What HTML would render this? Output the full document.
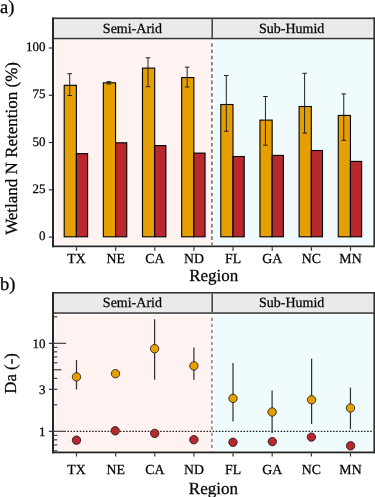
<!DOCTYPE html><html><head><meta charset="utf-8"><style>html,body{margin:0;padding:0;background:#fff;}svg{display:block;will-change:transform;}text{font-family:"Liberation Serif", serif;fill:#000;stroke:#000;stroke-width:0.25px;text-rendering:geometricPrecision;}</style></head><body>
<svg width="375" height="497" viewBox="0 0 375 497">
<rect x="54" y="19.1" width="319" height="18.699999999999996" fill="#eaeaea"/>
<rect x="54" y="39.3" width="319" height="206.2" fill="#fff"/>
<rect x="55" y="40.199999999999996" width="155.8" height="204.4" fill="#fef3f0"/>
<rect x="212.9" y="40.199999999999996" width="159.7" height="204.4" fill="#f0fbfd"/>
<rect x="211.4" y="19.1" width="1.6" height="18.699999999999996" fill="#4a4a4a"/>
<rect x="52" y="17.5" width="323" height="1.6" fill="#333333"/>
<rect x="52" y="37.8" width="323" height="1.5" fill="#333333"/>
<rect x="52" y="245.5" width="323" height="1.7" fill="#262626"/>
<rect x="52" y="17.5" width="2" height="229.7" fill="#262626"/>
<rect x="373.35" y="17.5" width="1.65" height="229.7" fill="#333333"/>
<text x="132.4" y="32.8" font-size="14" text-anchor="middle">Semi-Arid</text>
<text x="291.7" y="32.8" font-size="14" text-anchor="middle">Sub-Humid</text>
<line x1="211.9" y1="43.2" x2="211.9" y2="245.5" stroke="#666666" stroke-width="1.5" stroke-dasharray="3.6 2.63"/>
<rect x="48.8" y="236.50" width="3.4" height="1.2" fill="#333333"/>
<text x="45.6" y="240.20" font-size="13" text-anchor="end">0</text>
<rect x="48.8" y="189.22" width="3.4" height="1.2" fill="#333333"/>
<text x="45.6" y="192.92" font-size="13" text-anchor="end">25</text>
<rect x="48.8" y="141.95" width="3.4" height="1.2" fill="#333333"/>
<text x="45.6" y="145.65" font-size="13" text-anchor="end">50</text>
<rect x="48.8" y="94.68" width="3.4" height="1.2" fill="#333333"/>
<text x="45.6" y="98.38" font-size="13" text-anchor="end">75</text>
<rect x="48.8" y="47.40" width="3.4" height="1.2" fill="#333333"/>
<text x="45.6" y="51.10" font-size="13" text-anchor="end">100</text>
<rect x="75.90" y="247.2" width="1.2" height="3.6" fill="#333333"/>
<text x="76.50" y="262.8" font-size="13.8" text-anchor="middle">TX</text>
<rect x="115.04" y="247.2" width="1.2" height="3.6" fill="#333333"/>
<text x="115.64" y="262.8" font-size="13.8" text-anchor="middle">NE</text>
<rect x="154.18" y="247.2" width="1.2" height="3.6" fill="#333333"/>
<text x="154.78" y="262.8" font-size="13.8" text-anchor="middle">CA</text>
<rect x="193.32" y="247.2" width="1.2" height="3.6" fill="#333333"/>
<text x="193.92" y="262.8" font-size="13.8" text-anchor="middle">ND</text>
<rect x="232.46" y="247.2" width="1.2" height="3.6" fill="#333333"/>
<text x="233.06" y="262.8" font-size="13.8" text-anchor="middle">FL</text>
<rect x="271.60" y="247.2" width="1.2" height="3.6" fill="#333333"/>
<text x="272.20" y="262.8" font-size="13.8" text-anchor="middle">GA</text>
<rect x="310.74" y="247.2" width="1.2" height="3.6" fill="#333333"/>
<text x="311.34" y="262.8" font-size="13.8" text-anchor="middle">NC</text>
<rect x="349.88" y="247.2" width="1.2" height="3.6" fill="#333333"/>
<text x="350.48" y="262.8" font-size="13.8" text-anchor="middle">MN</text>
<rect x="64.20" y="85.3" width="12.20" height="151.50" fill="#e69f00" stroke="#000" stroke-width="1.1"/>
<rect x="76.40" y="153.65" width="11.20" height="83.15" fill="#b8282d" stroke="#000" stroke-width="1.1"/>
<rect x="103.35" y="82.8" width="12.20" height="154.00" fill="#e69f00" stroke="#000" stroke-width="1.1"/>
<rect x="115.55" y="142.8" width="11.20" height="94.00" fill="#b8282d" stroke="#000" stroke-width="1.1"/>
<rect x="142.50" y="68.1" width="12.20" height="168.70" fill="#e69f00" stroke="#000" stroke-width="1.1"/>
<rect x="154.70" y="145.6" width="11.20" height="91.20" fill="#b8282d" stroke="#000" stroke-width="1.1"/>
<rect x="181.65" y="77.6" width="12.20" height="159.20" fill="#e69f00" stroke="#000" stroke-width="1.1"/>
<rect x="193.85" y="153.1" width="11.20" height="83.70" fill="#b8282d" stroke="#000" stroke-width="1.1"/>
<rect x="220.80" y="104.5" width="12.20" height="132.30" fill="#e69f00" stroke="#000" stroke-width="1.1"/>
<rect x="233.00" y="156.5" width="11.20" height="80.30" fill="#b8282d" stroke="#000" stroke-width="1.1"/>
<rect x="259.95" y="120.1" width="12.20" height="116.70" fill="#e69f00" stroke="#000" stroke-width="1.1"/>
<rect x="272.15" y="155.4" width="11.20" height="81.40" fill="#b8282d" stroke="#000" stroke-width="1.1"/>
<rect x="299.10" y="106.5" width="12.20" height="130.30" fill="#e69f00" stroke="#000" stroke-width="1.1"/>
<rect x="311.30" y="150.5" width="11.20" height="86.30" fill="#b8282d" stroke="#000" stroke-width="1.1"/>
<rect x="338.25" y="115.4" width="12.20" height="121.40" fill="#e69f00" stroke="#000" stroke-width="1.1"/>
<rect x="350.45" y="161.4" width="11.20" height="75.40" fill="#b8282d" stroke="#000" stroke-width="1.1"/>
<line x1="69.70" y1="73.7" x2="69.70" y2="95.5" stroke="#222" stroke-width="1"/>
<line x1="67.40" y1="73.7" x2="72.00" y2="73.7" stroke="#222" stroke-width="1"/>
<line x1="67.40" y1="95.5" x2="72.00" y2="95.5" stroke="#222" stroke-width="1"/>
<line x1="108.85" y1="81.6" x2="108.85" y2="84.0" stroke="#222" stroke-width="1"/>
<line x1="106.55" y1="81.6" x2="111.15" y2="81.6" stroke="#222" stroke-width="1"/>
<line x1="106.55" y1="84.0" x2="111.15" y2="84.0" stroke="#222" stroke-width="1"/>
<line x1="148.00" y1="57.8" x2="148.00" y2="86.7" stroke="#222" stroke-width="1"/>
<line x1="145.70" y1="57.8" x2="150.30" y2="57.8" stroke="#222" stroke-width="1"/>
<line x1="145.70" y1="86.7" x2="150.30" y2="86.7" stroke="#222" stroke-width="1"/>
<line x1="187.15" y1="67.1" x2="187.15" y2="87.0" stroke="#222" stroke-width="1"/>
<line x1="184.85" y1="67.1" x2="189.45" y2="67.1" stroke="#222" stroke-width="1"/>
<line x1="184.85" y1="87.0" x2="189.45" y2="87.0" stroke="#222" stroke-width="1"/>
<line x1="226.30" y1="75.5" x2="226.30" y2="131.2" stroke="#222" stroke-width="1"/>
<line x1="224.00" y1="75.5" x2="228.60" y2="75.5" stroke="#222" stroke-width="1"/>
<line x1="224.00" y1="131.2" x2="228.60" y2="131.2" stroke="#222" stroke-width="1"/>
<line x1="265.45" y1="96.5" x2="265.45" y2="145.2" stroke="#222" stroke-width="1"/>
<line x1="263.15" y1="96.5" x2="267.75" y2="96.5" stroke="#222" stroke-width="1"/>
<line x1="263.15" y1="145.2" x2="267.75" y2="145.2" stroke="#222" stroke-width="1"/>
<line x1="304.60" y1="73.3" x2="304.60" y2="133.1" stroke="#222" stroke-width="1"/>
<line x1="302.30" y1="73.3" x2="306.90" y2="73.3" stroke="#222" stroke-width="1"/>
<line x1="302.30" y1="133.1" x2="306.90" y2="133.1" stroke="#222" stroke-width="1"/>
<line x1="343.75" y1="93.9" x2="343.75" y2="140.3" stroke="#222" stroke-width="1"/>
<line x1="341.45" y1="93.9" x2="346.05" y2="93.9" stroke="#222" stroke-width="1"/>
<line x1="341.45" y1="140.3" x2="346.05" y2="140.3" stroke="#222" stroke-width="1"/>
<text x="213.7" y="280.6" font-size="17" text-anchor="middle">Region</text>
<text transform="translate(16.7,148.45) rotate(-90)" x="0" y="0" font-size="17" text-anchor="middle">Wetland N Retention (%)</text>
<text x="0" y="12.6" font-size="18.5">a)</text>
<rect x="54" y="293.6" width="319" height="18.70000000000001" fill="#eaeaea"/>
<rect x="54" y="313.8" width="319" height="137.7" fill="#fff"/>
<rect x="55" y="314.7" width="155.8" height="135.9" fill="#fef3f0"/>
<rect x="212.9" y="314.7" width="159.7" height="135.9" fill="#f0fbfd"/>
<rect x="211.4" y="293.6" width="1.6" height="18.70000000000001" fill="#4a4a4a"/>
<rect x="52" y="292.0" width="323" height="1.6" fill="#333333"/>
<rect x="52" y="312.3" width="323" height="1.5" fill="#333333"/>
<rect x="52" y="451.5" width="323" height="1.8" fill="#262626"/>
<rect x="52" y="292.0" width="2" height="161.3" fill="#262626"/>
<rect x="373.35" y="292.0" width="1.65" height="161.3" fill="#333333"/>
<text x="132.4" y="307.3" font-size="14" text-anchor="middle">Semi-Arid</text>
<text x="291.7" y="307.3" font-size="14" text-anchor="middle">Sub-Humid</text>
<line x1="211.9" y1="317.7" x2="211.9" y2="451.5" stroke="#777777" stroke-width="1.4" stroke-dasharray="3.2 2.85"/>
<line x1="66.8" y1="431.30" x2="373" y2="431.30" stroke="#1a1a1a" stroke-width="1.2" stroke-dasharray="1.5 1.59" stroke-dashoffset="-0.62"/>
<rect x="53" y="450.27" width="4.3" height="1.1" fill="#333333"/>
<rect x="53" y="444.38" width="4.3" height="1.1" fill="#333333"/>
<rect x="53" y="439.28" width="4.3" height="1.1" fill="#333333"/>
<rect x="53" y="434.78" width="4.3" height="1.1" fill="#333333"/>
<rect x="53" y="430.75" width="13" height="1.1" fill="#333333"/>
<rect x="53" y="404.26" width="4.3" height="1.1" fill="#333333"/>
<rect x="53" y="388.76" width="4.3" height="1.1" fill="#333333"/>
<rect x="53" y="377.77" width="4.3" height="1.1" fill="#333333"/>
<rect x="53" y="369.24" width="8.4" height="1.1" fill="#333333"/>
<rect x="53" y="362.27" width="4.3" height="1.1" fill="#333333"/>
<rect x="53" y="356.38" width="4.3" height="1.1" fill="#333333"/>
<rect x="53" y="351.28" width="4.3" height="1.1" fill="#333333"/>
<rect x="53" y="346.78" width="4.3" height="1.1" fill="#333333"/>
<rect x="53" y="342.75" width="13" height="1.1" fill="#333333"/>
<rect x="53" y="316.26" width="4.3" height="1.1" fill="#333333"/>
<rect x="48.8" y="430.70" width="3.4" height="1.2" fill="#333333"/>
<text x="45.6" y="435.60" font-size="13" text-anchor="end">1</text>
<rect x="48.8" y="388.71" width="3.4" height="1.2" fill="#333333"/>
<text x="45.6" y="393.61" font-size="13" text-anchor="end">3</text>
<rect x="48.8" y="342.70" width="3.4" height="1.2" fill="#333333"/>
<text x="45.6" y="347.60" font-size="13" text-anchor="end">10</text>
<rect x="75.90" y="453.3" width="1.2" height="3.2" fill="#333333"/>
<text x="76.50" y="473.5" font-size="13.8" text-anchor="middle">TX</text>
<rect x="115.04" y="453.3" width="1.2" height="3.2" fill="#333333"/>
<text x="115.64" y="473.5" font-size="13.8" text-anchor="middle">NE</text>
<rect x="154.18" y="453.3" width="1.2" height="3.2" fill="#333333"/>
<text x="154.78" y="473.5" font-size="13.8" text-anchor="middle">CA</text>
<rect x="193.32" y="453.3" width="1.2" height="3.2" fill="#333333"/>
<text x="193.92" y="473.5" font-size="13.8" text-anchor="middle">ND</text>
<rect x="232.46" y="453.3" width="1.2" height="3.2" fill="#333333"/>
<text x="233.06" y="473.5" font-size="13.8" text-anchor="middle">FL</text>
<rect x="271.60" y="453.3" width="1.2" height="3.2" fill="#333333"/>
<text x="272.20" y="473.5" font-size="13.8" text-anchor="middle">GA</text>
<rect x="310.74" y="453.3" width="1.2" height="3.2" fill="#333333"/>
<text x="311.34" y="473.5" font-size="13.8" text-anchor="middle">NC</text>
<rect x="349.88" y="453.3" width="1.2" height="3.2" fill="#333333"/>
<text x="350.48" y="473.5" font-size="13.8" text-anchor="middle">MN</text>
<line x1="76.5" y1="360.1" x2="76.5" y2="389.5" stroke="#2e2e2e" stroke-width="1.2"/>
<line x1="154.6" y1="319.3" x2="154.6" y2="379.8" stroke="#2e2e2e" stroke-width="1.2"/>
<line x1="193.9" y1="347.5" x2="193.9" y2="379.8" stroke="#2e2e2e" stroke-width="1.2"/>
<line x1="233" y1="363" x2="233" y2="421.6" stroke="#2e2e2e" stroke-width="1.2"/>
<line x1="272.1" y1="390.6" x2="272.1" y2="433.1" stroke="#2e2e2e" stroke-width="1.2"/>
<line x1="311.6" y1="358.7" x2="311.6" y2="423.9" stroke="#2e2e2e" stroke-width="1.2"/>
<line x1="350.45" y1="387.6" x2="350.45" y2="429.2" stroke="#2e2e2e" stroke-width="1.2"/>
<circle cx="76.5" cy="376.9" r="4.2" fill="#e69f00" stroke="#111" stroke-width="0.8"/>
<circle cx="115.5" cy="373.7" r="4.2" fill="#e69f00" stroke="#111" stroke-width="0.8"/>
<circle cx="154.6" cy="348.7" r="4.2" fill="#e69f00" stroke="#111" stroke-width="0.8"/>
<circle cx="193.9" cy="365.9" r="4.2" fill="#e69f00" stroke="#111" stroke-width="0.8"/>
<circle cx="233" cy="398.4" r="4.2" fill="#e69f00" stroke="#111" stroke-width="0.8"/>
<circle cx="272.1" cy="412" r="4.2" fill="#e69f00" stroke="#111" stroke-width="0.8"/>
<circle cx="311.6" cy="399.8" r="4.2" fill="#e69f00" stroke="#111" stroke-width="0.8"/>
<circle cx="350.45" cy="408" r="4.2" fill="#e69f00" stroke="#111" stroke-width="0.8"/>
<circle cx="76.5" cy="440.2" r="4.2" fill="#b8282d" stroke="#111" stroke-width="0.8"/>
<circle cx="115.2" cy="430.8" r="4.2" fill="#b8282d" stroke="#111" stroke-width="0.8"/>
<circle cx="154.7" cy="433.4" r="4.2" fill="#b8282d" stroke="#111" stroke-width="0.8"/>
<circle cx="193.9" cy="439.7" r="4.2" fill="#b8282d" stroke="#111" stroke-width="0.8"/>
<circle cx="233" cy="442.3" r="4.2" fill="#b8282d" stroke="#111" stroke-width="0.8"/>
<circle cx="272.3" cy="441.6" r="4.2" fill="#b8282d" stroke="#111" stroke-width="0.8"/>
<circle cx="311.4" cy="437.1" r="4.2" fill="#b8282d" stroke="#111" stroke-width="0.8"/>
<circle cx="350.6" cy="445.8" r="4.2" fill="#b8282d" stroke="#111" stroke-width="0.8"/>
<text x="213.4" y="493.6" font-size="17" text-anchor="middle">Region</text>
<text transform="translate(16.3,373.4) rotate(-90)" x="0" y="0" font-size="16.8" text-anchor="middle">Da (-)</text>
<text x="0" y="290" font-size="18.5">b)</text>
</svg></body></html>
